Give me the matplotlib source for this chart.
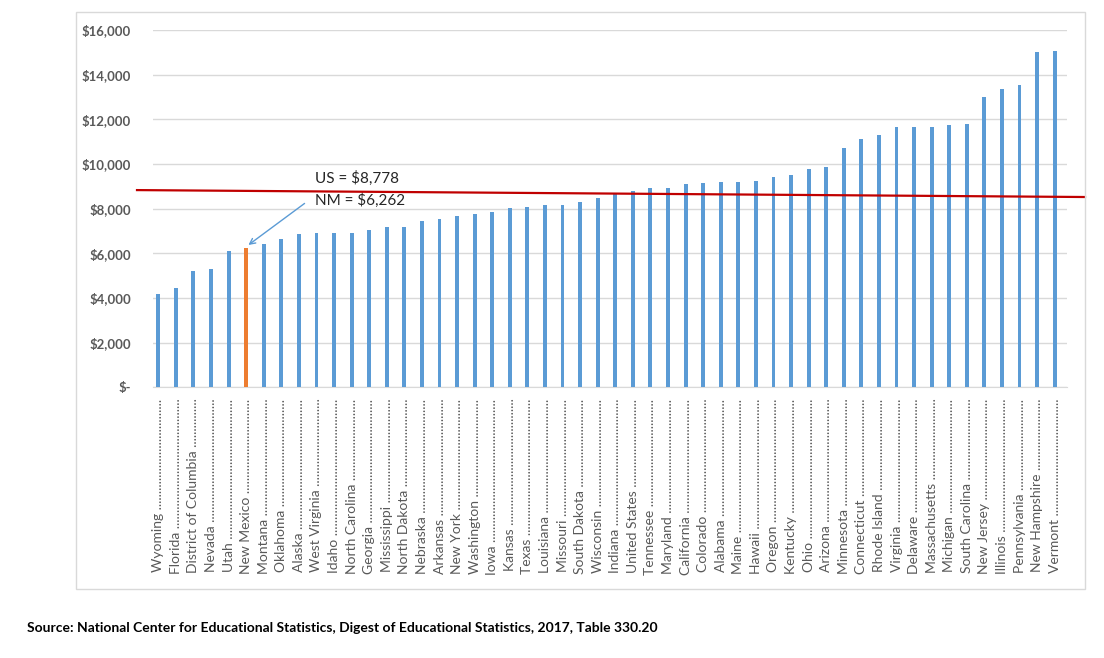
import matplotlib.pyplot as plt
import matplotlib.patches as patches
import matplotlib.transforms as mtransforms
from matplotlib.font_manager import FontProperties
from matplotlib.ticker import FuncFormatter

states = ['Wyoming', 'Florida', 'District of Columbia', 'Nevada', 'Utah', 'New Mexico',
          'Montana', 'Oklahoma', 'Alaska', 'West Virginia', 'Idaho', 'North Carolina',
          'Georgia', 'Mississippi', 'North Dakota', 'Nebraska', 'Arkansas', 'New York',
          'Washington', 'Iowa', 'Kansas', 'Texas', 'Louisiana', 'Missouri', 'South Dakota',
          'Wisconsin', 'Indiana', 'United States', 'Tennessee', 'Maryland', 'California',
          'Colorado', 'Alabama', 'Maine', 'Hawaii', 'Oregon', 'Kentucky', 'Ohio', 'Arizona',
          'Minnesota', 'Connecticut', 'Rhode Island', 'Virginia', 'Delaware', 'Massachusetts',
          'Michigan', 'South Carolina', 'New Jersey', 'Illinois', 'Pennsylvania',
          'New Hampshire', 'Vermont']
values = [4167, 4436, 5224, 5286, 6119, 6262,
          6432, 6656, 6866, 6925, 6925, 6925,
          7032, 7180, 7180, 7448, 7551, 7659,
          7762, 7865, 8017, 8075, 8178, 8178, 8299,
          8491, 8720, 8778, 8925, 8925, 9090,
          9135, 9180, 9180, 9239, 9404, 9522, 9776, 9879,
          10729, 11105, 11311, 11669, 11669, 11669,
          11732, 11777, 12999, 13370, 13522,
          14999, 15057]
yticks = [0, 2000, 4000, 6000, 8000, 10000, 12000, 14000, 16000]
highlight = 'New Mexico'
us_value = 8778
nm_value = 6262
source = ('Source: National Center for Educational Statistics, Digest of Educational '
          'Statistics, 2017, Table 330.20')

blue = '#5B9BD5'
orange = '#ED7D31'
gray = '#595959'
font = 'Lato'

fig = plt.figure(figsize=(11.04, 6.58), dpi=100)
ax = fig.add_axes([153 / 1104, 1 - 387.4 / 658, 914 / 1104, 357.4 / 658])

# chart area border
fig.patches.append(patches.Rectangle((76 / 1104, 1 - 589 / 658), 1009 / 1104, 577 / 658,
                                     transform=fig.transFigure, fill=False,
                                     edgecolor='#d9d9d9', lw=1))

x = list(range(len(states)))
colors = [orange if s == highlight else blue for s in states]
ax.bar(x, values, width=0.22, color=colors, zorder=3)

ax.set_xlim(-0.3, len(states) - 0.3)
ax.set_ylim(0, 16000)
ax.set_yticks(yticks)
ax.yaxis.set_major_formatter(FuncFormatter(lambda v, p: '$-' if v == 0 else f'${v:,.0f}'))
ax.grid(axis='y', color='#d9d9d9', lw=1, zorder=0)
for side in ['top', 'right', 'left']:
    ax.spines[side].set_visible(False)
ax.spines['bottom'].set_color('#d9d9d9')
ax.tick_params(axis='y', length=0, pad=16, labelcolor=gray)
ax.tick_params(axis='x', length=0, pad=8, labelcolor=gray)
for lab in ax.get_yticklabels():
    lab.set_fontfamily(font)
    lab.set_fontweight('bold')
    lab.set_fontsize(9.5)

# dot leaders padded to a roughly common length
renderer = fig.canvas.get_renderer()
fp = FontProperties(family=font, size=10)
dot_w = renderer.get_text_width_height_descent('..........', fp, ismath=False)[0] / 10
labels = []
for s in states:
    w = renderer.get_text_width_height_descent(s + ' ', fp, ismath=False)[0]
    n = max(3, int((176 - w) / dot_w))
    labels.append(s + ' ' + '.' * n)
ax.set_xticks(x)
ax.set_xticklabels(labels, rotation=90, fontproperties=fp)

# US average reference line
trans = mtransforms.blended_transform_factory(ax.transAxes, ax.transData)
ax.plot([-0.0175, 1.0197], [us_value + 55, us_value - 255], color='#C00000', lw=1.6,
        transform=trans, clip_on=False, zorder=4)

ax.text(8.93, 9380, f'US = ${us_value:,}', fontsize=11, family=font, color='#262626',
        va='center', ha='left')
ax.text(8.93, 8390, f'NM = ${nm_value:,}', fontsize=11, family=font, color='#262626',
        va='center', ha='left')
ax.annotate('', xy=(5, nm_value + 40), xytext=(8.45, 8310),
            arrowprops=dict(arrowstyle='->', color=blue, lw=1))

fig.text(27 / 1104, 1 - 628 / 658, source, fontsize=10, family=font, weight='bold',
         va='center', ha='left', color='black')

fig.savefig('out.png', dpi=100)
